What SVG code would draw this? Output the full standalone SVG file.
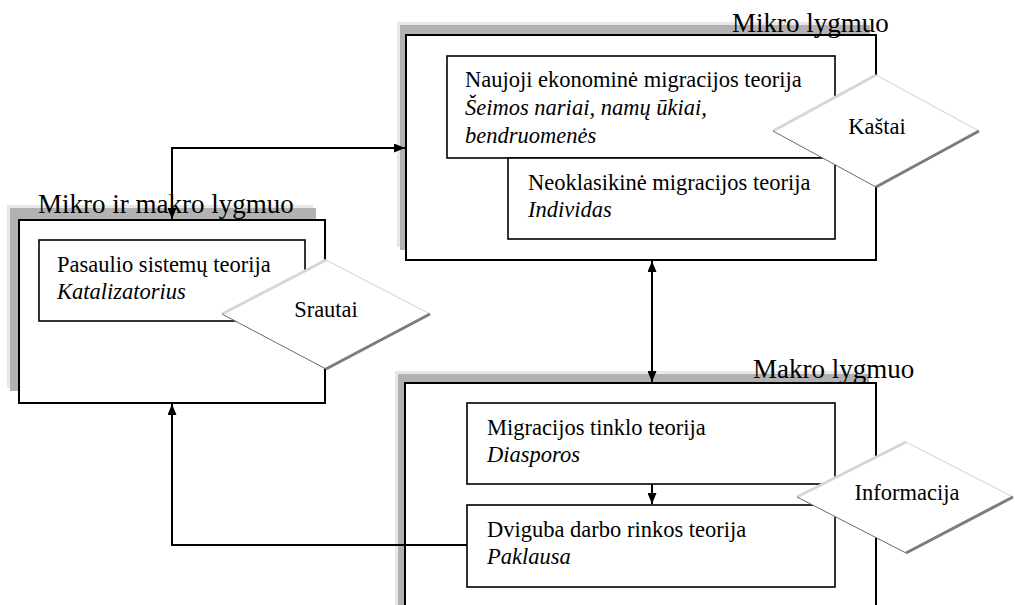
<svg xmlns="http://www.w3.org/2000/svg" width="1015" height="605" viewBox="0 0 1015 605">
<style>
.bg{fill:#fff}
.frame{fill:#fff;stroke:#000;stroke-width:2}
.box{fill:#fff;stroke:#000;stroke-width:1.6}
.sh1{fill:#e8e8e8}
.sh2{fill:#b2b2b2}
.hdr{font-family:"Liberation Serif","Times New Roman",serif;font-size:27px;fill:#000}
.t{font-family:"Liberation Serif","Times New Roman",serif;font-size:22.5px;fill:#000}
.i{font-style:italic}
.dia{fill:#fff;stroke:none}
.etl{stroke:#d6d6d6;stroke-width:3;fill:none}
.etr{stroke:#cfcfcf;stroke-width:1;fill:none}
.ebr{stroke:#7c7c7c;stroke-width:3;fill:none}
.ebl{stroke:#6a6a6a;stroke-width:1;fill:none}
.conn{fill:none;stroke:#000;stroke-width:2}
</style>
<defs>
<marker id="arr" markerUnits="userSpaceOnUse" markerWidth="11" markerHeight="9" refX="11" refY="4.5" orient="auto-start-reverse" viewBox="0 0 11 9">
<path d="M0,0 L11,4.5 L0,9 z" fill="#000"/>
</marker>
</defs>
<rect class="bg" x="0" y="0" width="1015" height="605"/>

<g id="mikro-makro">
<rect class="sh1" x="7" y="205" width="306" height="183"/>
<rect class="sh2" x="10" y="208" width="306" height="183"/>
<rect class="frame" x="19" y="220" width="306" height="183"/>
<text class="hdr" x="38" y="213">Mikro ir makro lygmuo</text>
</g>

<g id="mikro">
<rect class="sh1" x="397" y="22" width="470" height="225"/>
<rect class="sh2" x="400" y="25" width="470" height="225"/>
<rect class="frame" x="406" y="35" width="470" height="225"/>
<text class="hdr" x="732" y="32">Mikro lygmuo</text>
</g>

<g id="makro">
<rect class="sh1" x="395" y="371" width="471" height="260"/>
<rect class="sh2" x="398" y="374" width="471" height="260"/>
<rect class="frame" x="405" y="383" width="471" height="260"/>
<text class="hdr" x="753" y="378">Makro lygmuo</text>
</g>

<g id="pasaulio">
<rect class="box" x="39" y="240" width="266" height="81"/>
<text class="t" x="57" y="272">Pasaulio sistemų teorija</text>
<text class="t i" x="57" y="299">Katalizatorius</text>
</g>

<g id="naujoji">
<rect class="box" x="447" y="56" width="388" height="102"/>
<text class="t" x="465" y="87">Naujoji ekonominė migracijos teorija</text>
<text class="t i" x="465" y="115">Šeimos nariai, namų ūkiai,</text>
<text class="t i" x="465" y="143">bendruomenės</text>
</g>

<g id="neoklasikine">
<rect class="box" x="508" y="158" width="327" height="81"/>
<text class="t" x="528" y="190">Neoklasikinė migracijos teorija</text>
<text class="t i" x="528" y="217">Individas</text>
</g>

<g id="migracijos-tinklo">
<rect class="box" x="467" y="403" width="368" height="81"/>
<text class="t" x="487" y="435">Migracijos tinklo teorija</text>
<text class="t i" x="487" y="462">Diasporos</text>
</g>

<g id="dviguba">
<rect class="box" x="467" y="505" width="368" height="82"/>
<text class="t" x="487" y="537">Dviguba darbo rinkos teorija</text>
<text class="t i" x="487" y="564">Paklausa</text>
</g>

<g id="connectors">
<path class="conn" d="M172,219 V148 H405" marker-start="url(#arr)" marker-end="url(#arr)"/>
<path class="conn" d="M652,261 V382" marker-start="url(#arr)" marker-end="url(#arr)"/>
<path class="conn" d="M652,484 V504" marker-end="url(#arr)"/>
<path class="conn" d="M467,545 H172 V404" marker-end="url(#arr)"/>
</g>

<g id="kastai">
<polygon class="dia" points="773,131 876,75 979,131 876,187"/>
<line class="etl" x1="773" y1="131" x2="876" y2="75"/>
<line class="etr" x1="876" y1="75" x2="979" y2="131"/>
<line class="ebr" x1="979" y1="131" x2="876" y2="187"/>
<line class="ebl" x1="876" y1="187" x2="773" y2="131"/>
<text class="t" x="877" y="134" text-anchor="middle">Kaštai</text>
</g>

<g id="srautai">
<polygon class="dia" points="222,314 326,260 430,314 326,369"/>
<line class="etl" x1="222" y1="314" x2="326" y2="260"/>
<line class="etr" x1="326" y1="260" x2="430" y2="314"/>
<line class="ebr" x1="430" y1="314" x2="326" y2="369"/>
<line class="ebl" x1="326" y1="369" x2="222" y2="314"/>
<text class="t" x="326" y="317" text-anchor="middle">Srautai</text>
</g>

<g id="informacija">
<polygon class="dia" points="797,497 906,442 1013,497 906,553"/>
<line class="etl" x1="797" y1="497" x2="906" y2="442"/>
<line class="etr" x1="906" y1="442" x2="1013" y2="497"/>
<line class="ebr" x1="1013" y1="497" x2="906" y2="553"/>
<line class="ebl" x1="906" y1="553" x2="797" y2="497"/>
<text class="t" x="907" y="500" text-anchor="middle">Informacija</text>
</g>
</svg>
